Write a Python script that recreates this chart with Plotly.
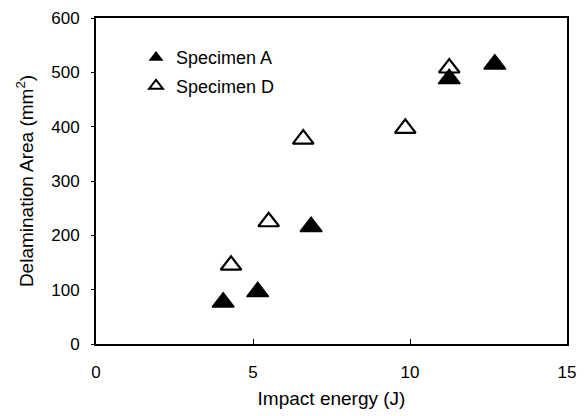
import plotly.graph_objects as go

# Data
a_energy = [4.05, 5.15, 6.85, 11.25, 12.7]
a_area = [77, 96, 216, 488, 515]
d_energy = [4.3, 5.5, 6.6, 9.85, 11.25]
d_area = [145, 225, 377, 397, 508]
x_ticks = [0, 5, 10, 15]
y_ticks = [0, 100, 200, 300, 400, 500, 600]

FONT = "Liberation Sans, Arial, sans-serif"

fig = go.Figure()
fig.add_trace(go.Scatter(
    x=a_energy, y=a_area, mode="markers", showlegend=False,
    marker=dict(symbol="triangle-up", size=19, color="black",
                line=dict(color="black", width=1.5)),
))
fig.add_trace(go.Scatter(
    x=d_energy, y=d_area, mode="markers", showlegend=False,
    marker=dict(symbol="triangle-up-open", size=18, color="black",
                line=dict(color="black", width=2.2)),
))
# legend entries
fig.add_trace(go.Scatter(
    x=[None], y=[None], mode="markers", name="Specimen A", legendgroup="a",
    marker=dict(symbol="triangle-up", size=13, color="black"),
))
fig.add_trace(go.Scatter(
    x=[None], y=[None], mode="markers", name="Specimen D", legendgroup="d",
    marker=dict(symbol="triangle-up-open", size=12, color="black",
                line=dict(color="black", width=2)),
))

fig.update_layout(
    width=585, height=416,
    margin=dict(l=96, r=18, t=18, b=72),
    paper_bgcolor="white", plot_bgcolor="white",
    font=dict(family=FONT, size=17, color="black"),
    legend=dict(x=0.085, y=0.935, xanchor="left", yanchor="top",
                bgcolor="rgba(0,0,0,0)", font=dict(size=18),
                tracegroupgap=2, itemwidth=30),
    xaxis=dict(range=[0, 15], tickvals=x_ticks, ticks="inside", ticklen=5,
               tickwidth=1, tickcolor="black", automargin=False,
               tickfont=dict(size=17),
               showline=True, linecolor="black", linewidth=2, mirror=True,
               showgrid=False, zeroline=False,
               ticklabelstandoff=12,
               title=dict(text="Impact energy (J)", font=dict(size=19), standoff=10)),
    yaxis=dict(range=[0, 600], tickvals=y_ticks, ticks="outside", ticklen=3,
               tickwidth=1, tickcolor="black", automargin=False,
               tickfont=dict(size=17),
               showline=True, linecolor="black", linewidth=2, mirror=True,
               showgrid=False, zeroline=False,
               ticklabelstandoff=8,
               title=dict(text="Delamination Area (mm<sup>2</sup>)", font=dict(size=19), standoff=13)),
)

fig.write_html("out.html")
